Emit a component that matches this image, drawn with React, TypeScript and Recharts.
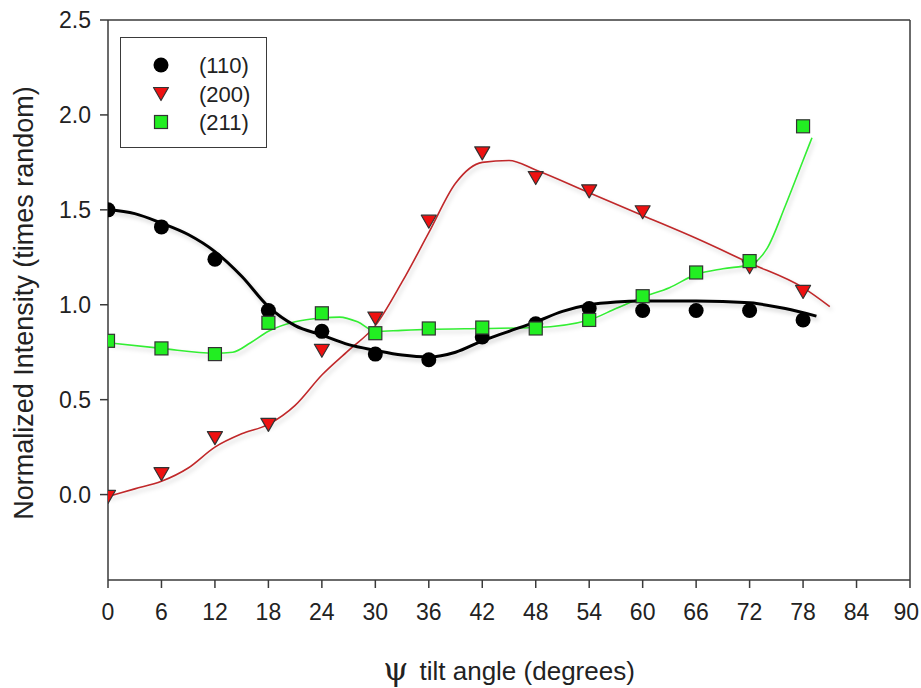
import React from 'react';
import {
  ComposedChart, Line, Scatter, XAxis, YAxis, ReferenceLine,
} from 'recharts';

// measured tilt angles and normalized intensities
const ANGLES = [0, 6, 12, 18, 24, 30, 36, 42, 48, 54, 60, 66, 72, 78];
const I110 = [1.5, 1.41, 1.24, 0.97, 0.86, 0.74, 0.71, 0.83, 0.9, 0.98, 0.97, 0.97, 0.97, 0.92];
const I200 = [-0.01, 0.11, 0.3, 0.37, 0.76, 0.93, 1.44, 1.8, 1.67, 1.6, 1.49, null, 1.2, 1.07];
const I211 = [0.81, 0.77, 0.74, 0.905, 0.955, 0.85, 0.875, 0.88, 0.875, 0.92, 1.045, 1.17, 1.23, 1.94];

// smoothed fit curves
const FIT110_X = [0, 3, 6, 9, 12, 15, 18, 21, 24, 27, 30, 33, 36, 39, 42, 45, 48, 51, 54, 57, 60, 66, 72, 76, 79.5];
const FIT110_Y = [1.5, 1.48, 1.43, 1.37, 1.28, 1.15, 0.99, 0.89, 0.84, 0.79, 0.76, 0.735, 0.725, 0.75, 0.81, 0.86, 0.91, 0.965, 1.0, 1.015, 1.02, 1.02, 1.01, 0.98, 0.94];
const FIT200_X = [0, 3, 6, 9, 12, 15, 18, 21, 24, 27, 30, 33, 36, 39, 42, 45, 48, 54, 60, 66, 72, 78, 81];
const FIT200_Y = [-0.01, 0.03, 0.07, 0.14, 0.25, 0.32, 0.37, 0.47, 0.63, 0.76, 0.89, 1.12, 1.38, 1.64, 1.75, 1.76, 1.71, 1.59, 1.47, 1.35, 1.22, 1.09, 0.99];
const FIT211_X = [0, 6, 12, 14, 16, 18, 21, 24, 26, 28, 30, 33, 36, 42, 48, 54, 57, 60, 63, 66, 69, 72, 74, 76, 78, 79];
const FIT211_Y = [0.8, 0.77, 0.745, 0.75, 0.8, 0.86, 0.91, 0.93, 0.935, 0.91, 0.86, 0.865, 0.87, 0.875, 0.88, 0.92, 0.98, 1.04, 1.09, 1.16, 1.19, 1.21, 1.3, 1.52, 1.76, 1.88];

const X_TICKS = [0, 6, 12, 18, 24, 30, 36, 42, 48, 54, 60, 66, 72, 78, 84, 90];
const Y_TICKS = [0, 0.5, 1.0, 1.5, 2.0, 2.5];
const LEGEND = ['(110)', '(200)', '(211)'];

const pts = (ys: (number | null)[]) =>
  ANGLES.map((x, i) => ({ x, y: ys[i] })).filter((d) => d.y !== null);
const fit = (xs: number[], ys: number[]) => xs.map((x, i) => ({ x, y: ys[i] }));

const FONT = '"Liberation Sans", Arial, sans-serif';
const AXIS = '#3a3a3a';
const TXT = '#222';
const TICK_FS = 23;

const Circle = (p: any) => <circle cx={p.cx} cy={p.cy} r={7.5} fill="#000" />;
const Tri = (p: any) => (
  <path
    d={`M${p.cx - 7.5},${p.cy - 6} L${p.cx + 7.5},${p.cy - 6} L${p.cx},${p.cy + 7} Z`}
    fill="#ee1111" stroke="#333" strokeWidth={1.2} strokeLinejoin="round"
  />
);
const Sq = (p: any) => (
  <rect x={p.cx - 6.5} y={p.cy - 6.5} width={13} height={13} fill="#22ee22" stroke="#333" strokeWidth={1.2} />
);

const XTick = (p: any) => {
  // last label sits right at the page edge; pin its right side inside
  const last = p.payload.value === X_TICKS[X_TICKS.length - 1];
  return (
    <text x={last ? p.x + 9 : p.x} y={p.y + 15} textAnchor={last ? 'end' : 'middle'} fill={TXT} fontFamily={FONT} fontSize={TICK_FS}>
      {p.payload.value}
    </text>
  );
};
const YTick = (p: any) => (
  <text x={p.x} y={p.y + 8} textAnchor="end" fill={TXT} fontFamily={FONT} fontSize={TICK_FS}>
    {Number(p.payload.value).toFixed(1)}
  </text>
);

const LegendBox = () => {
  const marks = [Circle, Tri, Sq];
  return (
    <div style={{ position: 'absolute', left: 120, top: 37, width: 147, height: 111, boxSizing: 'border-box', border: `1.5px solid ${AXIS}`, background: '#fff' }}>
      <svg width={144} height={108} style={{ display: 'block' }}>
        {LEGEND.map((label, i) => {
          const cy = 27 + i * 28.5;
          const M = marks[i];
          return (
            <g key={label}>
              <M cx={40} cy={cy} />
              <text x={78} y={cy + 8} fontSize={22} fill={TXT} fontFamily={FONT}>{label}</text>
            </g>
          );
        })}
      </svg>
    </div>
  );
};

const XLabel = (props: any) => {
  const vb = props.viewBox || {};
  return (
    <text x={vb.x + vb.width / 2} y={680} textAnchor="middle" fill={TXT} fontFamily={FONT} fontSize={26}>
      <tspan fontFamily='"DejaVu Serif", "Liberation Serif", serif' fontSize={32}>ψ</tspan>
      <tspan dx={4}> tilt angle (degrees)</tspan>
    </text>
  );
};

const YLabel = () => (
  <text x={33} y={303} transform="rotate(-90, 33, 303)" textAnchor="middle" fill={TXT} fontFamily={FONT} fontSize={27}>
    Normalized Intensity (times random)
  </text>
);

export default function App() {
  return (
    <div style={{ position: 'absolute', left: 0, top: 0, width: 921, height: 688, background: '#fff' }}>
      <style>{`.recharts-line-curve { filter: drop-shadow(2px 3px 2px rgba(0,0,0,0.18)); }`}</style>
      <ComposedChart width={921} height={688} margin={{ top: 20, right: 11, bottom: 78, left: 48 }}>
        <XAxis
          type="number" dataKey="x" domain={[0, 90]} ticks={X_TICKS} interval={0}
          allowDataOverflow height={30}
          stroke={AXIS} strokeWidth={1.5} tickSize={8} tickMargin={17}
          tick={<XTick />}
          label={<XLabel />}
        />
        <YAxis
          type="number" dataKey="y" domain={[-0.45, 2.5]} ticks={Y_TICKS} interval={0}
          allowDataOverflow width={60}
          stroke={AXIS} strokeWidth={1.5} tickSize={8} tickMargin={9}
          tick={<YTick />}
          label={<YLabel />}
        />
        <ReferenceLine y={2.5} stroke={AXIS} strokeWidth={1.5} />
        <ReferenceLine x={90} stroke={AXIS} strokeWidth={1.5} />
        <Line data={fit(FIT200_X, FIT200_Y)} dataKey="y" type="monotone" stroke="#c0282a" strokeWidth={1.6}
          dot={false} activeDot={false} isAnimationActive={false} />
        <Line data={fit(FIT211_X, FIT211_Y)} dataKey="y" type="monotone" stroke="#33ee33" strokeWidth={1.6}
          dot={false} activeDot={false} isAnimationActive={false} />
        <Line data={fit(FIT110_X, FIT110_Y)} dataKey="y" type="monotone" stroke="#000" strokeWidth={3}
          dot={false} activeDot={false} isAnimationActive={false} />
        <Scatter data={pts(I110)} dataKey="y" shape={<Circle />} isAnimationActive={false} name="(110)" />
        <Scatter data={pts(I200)} dataKey="y" shape={<Tri />} isAnimationActive={false} name="(200)" />
        <Scatter data={pts(I211)} dataKey="y" shape={<Sq />} isAnimationActive={false} name="(211)" />
      </ComposedChart>
      <LegendBox />
    </div>
  );
}
